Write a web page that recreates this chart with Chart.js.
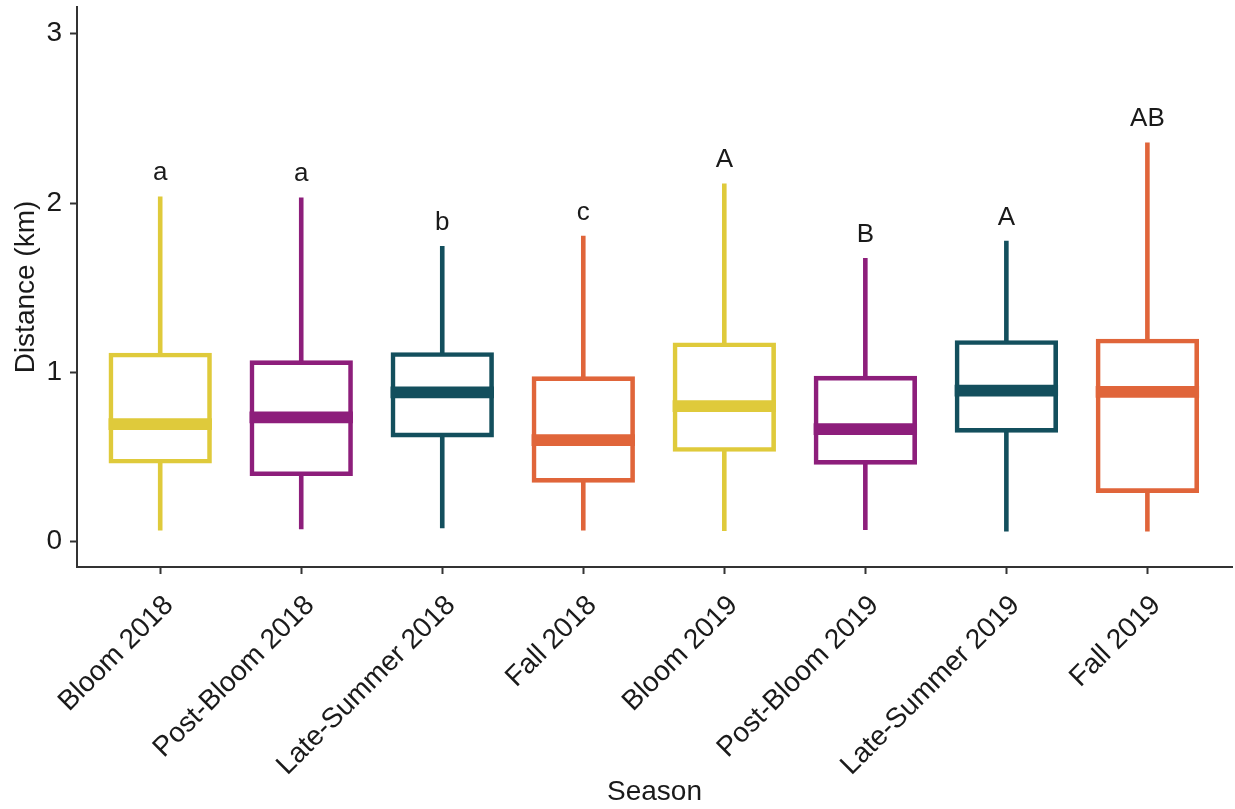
<!DOCTYPE html>
<html>
<head>
<meta charset="utf-8">
<title>Distance by season</title>
<script src="https://cdn.jsdelivr.net/npm/chart.js@4.4.0/dist/chart.umd.min.js"></script>
<style>
  html, body { margin: 0; padding: 0; background: #ffffff; }
  canvas { display: block; }
</style>
</head>
<body>
<canvas id="chart" width="1235" height="809"></canvas>
<script>
// Seasons on the x axis
const seasons = ['Bloom 2018', 'Post-Bloom 2018', 'Late-Summer 2018', 'Fall 2018',
                 'Bloom 2019', 'Post-Bloom 2019', 'Late-Summer 2019', 'Fall 2019'];

// Box-plot summary per season (km)
const whiskerLow  = [0.065, 0.073, 0.079, 0.065, 0.063, 0.069, 0.059, 0.059];
const q1          = [0.475, 0.401, 0.629, 0.362, 0.544, 0.468, 0.657, 0.301];
const median      = [0.694, 0.734, 0.882, 0.600, 0.800, 0.665, 0.892, 0.884];
const q3          = [1.102, 1.057, 1.105, 0.963, 1.163, 0.966, 1.176, 1.185];
const whiskerHigh = [2.039, 2.033, 1.746, 1.807, 2.116, 1.675, 1.777, 2.358];

// Significance-group letters drawn above each upper whisker
const groupLetters = ['a', 'a', 'b', 'c', 'A', 'B', 'A', 'AB'];

// Y axis tick values
const yTicks = [0, 1, 2, 3];

// Season colours
const seasonColors = ['#DFCA3B', '#8D1E7B', '#134F5D', '#E0653A',
                      '#DFCA3B', '#8D1E7B', '#134F5D', '#E0653A'];

const FONT = "'Liberation Sans', Arial, Helvetica, sans-serif";
const INK = '#1a1a1a';
const AXIS = '#333333';
const LINE_W = 4.6;

Chart.defaults.font.family = FONT;

// Writes the group letters just above each upper whisker
const groupLetterPlugin = {
  id: 'groupLetters',
  afterDatasetsDraw(chart) {
    const { ctx, scales: { x, y } } = chart;
    ctx.save();
    ctx.font = '26px ' + FONT;
    ctx.fillStyle = INK;
    ctx.textAlign = 'center';
    ctx.textBaseline = 'alphabetic';
    groupLetters.forEach((txt, i) => {
      ctx.fillText(txt, x.getPixelForValue(i), y.getPixelForValue(whiskerHigh[i]) - 16);
    });
    ctx.restore();
  }
};

new Chart(document.getElementById('chart'), {
  type: 'bar',
  data: {
    datasets: [
      {
        // whiskers: thin floating bars from lower to upper whisker end
        type: 'bar',
        label: 'whiskers',
        data: seasons.map((s, i) => ({ x: i, y: [whiskerLow[i], whiskerHigh[i]] })),
        backgroundColor: seasonColors,
        borderWidth: 0,
        inflateAmount: 0,
        grouped: false,
        maxBarThickness: LINE_W,
        order: 3
      },
      {
        // interquartile boxes
        type: 'bar',
        label: 'boxes',
        data: seasons.map((s, i) => ({ x: i, y: [q1[i], q3[i]] })),
        backgroundColor: '#ffffff',
        borderColor: seasonColors,
        borderWidth: LINE_W,
        inflateAmount: LINE_W / 2,
        borderSkipped: false,
        grouped: false,
        categoryPercentage: 1,
        barPercentage: 0.70,
        order: 2
      },
      {
        // medians: thick horizontal line markers
        type: 'scatter',
        label: 'medians',
        data: seasons.map((s, i) => ({ x: i, y: median[i] })),
        pointStyle: 'line',
        pointRadius: 51.7,
        pointHoverRadius: 51.7,
        pointBorderWidth: 11.7,
        pointHoverBorderWidth: 11.7,
        pointBorderColor: seasonColors,
        borderColor: seasonColors,
        showLine: false,
        order: 1
      }
    ]
  },
  options: {
    responsive: false,
    devicePixelRatio: 1,
    animation: false,
    events: [],
    layout: { autoPadding: false, padding: { top: 7, right: 3, bottom: 0, left: 0 } },
    plugins: {
      legend: { display: false },
      tooltip: { enabled: false }
    },
    scales: {
      x: {
        type: 'linear',
        offset: false,
        min: -0.59,
        max: 7.6,
        afterBuildTicks: (s) => { s.ticks = seasons.map((_, i) => ({ value: i })); },
        afterFit: (s) => { s.height = 242; s.paddingLeft = 0; s.paddingRight = 0; },
        ticks: {
          autoSkip: false,
          minRotation: 45,
          maxRotation: 45,
          padding: 18,
          color: INK,
          font: { size: 28, family: FONT, lineHeight: 0.9 },
          showLabelBackdrop: true,
          backdropColor: 'rgba(0,0,0,0)',
          backdropPadding: 0,
          callback: (v) => seasons[v]
        },
        grid: {
          offset: false,
          drawOnChartArea: false,
          drawTicks: true,
          tickLength: 7,
          tickColor: AXIS,
          tickWidth: 2
        },
        border: { display: true, color: AXIS, width: 2 },
        title: {
          display: true,
          text: 'Season',
          color: INK,
          font: { size: 28, family: FONT },
          padding: { top: 0, bottom: 0 }
        }
      },
      y: {
        type: 'linear',
        min: -0.150,
        max: 3.158,
        afterBuildTicks: (s) => { s.ticks = yTicks.map(v => ({ value: v })); },
        afterFit: (s) => { s.width = 77; s.paddingTop = 0; s.paddingBottom = 0; },
        ticks: {
          padding: 8,
          color: INK,
          font: { size: 28, family: FONT },
          callback: (v) => String(v)
        },
        grid: {
          drawOnChartArea: false,
          drawTicks: true,
          tickLength: 7,
          tickColor: AXIS,
          tickWidth: 2
        },
        border: { display: true, color: AXIS, width: 2 },
        title: {
          display: true,
          text: 'Distance (km)',
          color: INK,
          font: { size: 28, family: FONT },
          padding: { top: 9, bottom: 0 }
        }
      }
    }
  },
  plugins: [groupLetterPlugin]
});
</script>
</body>
</html>
